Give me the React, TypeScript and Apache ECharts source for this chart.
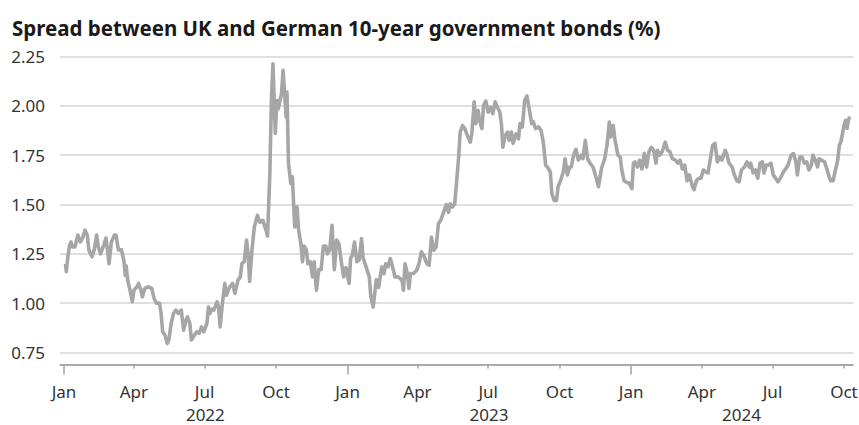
import React, { useEffect, useRef } from "react";
import * as echarts from "echarts";

const TITLE = "Spread between UK and German 10-year government bonds (%)";

// Day of year (0 = 1 Jan) and spread value (%)
const DAYS_2022 = [2,3,5,7,9,11,14,18,21,24,27,30,32,36,39,42,44,47,51,54,56,58,61,65,67,70,74,77,79,80,82,85,88,90,94,96,99,101,104,109,113,116,119,123,125,127,130,133,135,138,141,144,147,151,154,157,159,162,164,168,171,174,177,180,184,186,188,190,193,197,199,201,204,207,209,213,217,220,224,227,229,232,235,237,239,242,245,249,252,256,260,262,265,267,269,272,274,276,278,280,282,284,286,287,289,292,294,296,297,300,302,305,307,309,312,314,317,320,322,325,328,331,334,337,339,342,345,348,351,354,357,360,363];
const VALUES_2022 = [1.20,1.16,1.235,1.29,1.31,1.285,1.285,1.345,1.31,1.33,1.37,1.345,1.27,1.235,1.27,1.345,1.29,1.25,1.29,1.33,1.27,1.20,1.31,1.345,1.345,1.27,1.27,1.217,1.14,1.19,1.117,1.066,1.007,1.066,1.083,1.10,1.066,1.032,1.075,1.083,1.075,1.024,1.0,1.0,0.948,0.855,0.838,0.796,0.813,0.897,0.948,0.965,0.948,0.965,0.863,0.914,0.93,0.897,0.813,0.838,0.855,0.847,0.88,0.855,0.897,0.98,0.948,0.97,0.965,1.007,0.98,0.88,1.0,1.10,1.04,1.08,1.10,1.05,1.117,1.133,1.20,1.21,1.32,1.25,1.11,1.27,1.386,1.445,1.41,1.42,1.37,1.34,1.656,2.027,2.213,1.86,2.027,1.985,2.027,2.06,2.18,2.06,1.943,2.07,1.707,1.606,1.64,1.47,1.386,1.487,1.37,1.30,1.21,1.29,1.27,1.20,1.21,1.133,1.21,1.066,1.17,1.17,1.29,1.29,1.25,1.27,1.395,1.17,1.32,1.30,1.21,1.133,1.18];

const DAYS_2023 = [2,4,6,9,12,15,18,20,25,28,30,33,37,40,44,47,49,52,55,58,61,65,70,72,74,77,79,81,85,89,92,95,98,102,105,108,111,114,117,120,123,127,130,132,135,138,140,143,145,148,151,155,158,160,163,165,168,170,173,175,178,181,184,187,190,193,196,198,200,203,206,208,211,213,217,220,222,225,228,231,234,237,239,242,246,249,252,255,258,261,263,266,269,271,275,278,280,283,286,288,291,294,297,301,303,306,309,312,316,319,323,327,331,334,337,339,342,344,348,351,353,356,360,362];
const VALUES_2023 = [1.10,1.23,1.24,1.31,1.21,1.22,1.327,1.23,1.17,1.133,1.032,0.98,1.12,1.08,1.184,1.15,1.20,1.184,1.226,1.184,1.133,1.133,1.117,1.066,1.20,1.15,1.075,1.15,1.15,1.167,1.20,1.26,1.243,1.20,1.192,1.335,1.268,1.285,1.403,1.42,1.454,1.50,1.46,1.504,1.487,1.504,1.597,1.74,1.867,1.90,1.885,1.842,1.816,1.86,2.02,1.91,1.977,1.926,1.885,2.0,2.024,1.968,1.993,1.96,2.02,1.993,1.968,1.91,1.79,1.85,1.867,1.825,1.867,1.81,1.858,1.833,1.91,1.893,2.027,2.05,1.98,1.91,1.92,1.885,1.893,1.876,1.816,1.70,1.685,1.665,1.555,1.521,1.521,1.59,1.63,1.67,1.732,1.65,1.69,1.69,1.75,1.78,1.725,1.75,1.732,1.825,1.732,1.71,1.69,1.65,1.59,1.685,1.732,1.80,1.918,1.842,1.90,1.833,1.75,1.74,1.675,1.62,1.61,1.61];

const DAYS_2024 = [1,3,5,8,11,14,17,20,23,26,29,32,34,37,40,44,47,50,53,57,60,63,66,69,72,75,79,81,84,87,90,93,96,99,102,105,108,111,114,117,121,123,126,130,133,136,139,142,146,149,152,154,157,160,163,166,169,171,174,177,180,183,186,189,193,196,199,202,206,209,212,214,217,220,223,226,229,232,234,238,240,242,245,249,252,255,257,260,263,266,268,270,272,274,276,278,280,282];
const VALUES_2024 = [1.58,1.71,1.716,1.69,1.725,1.68,1.76,1.69,1.767,1.79,1.775,1.71,1.775,1.75,1.767,1.816,1.775,1.767,1.732,1.725,1.71,1.725,1.68,1.70,1.62,1.65,1.59,1.575,1.62,1.633,1.633,1.675,1.665,1.66,1.732,1.80,1.81,1.716,1.74,1.725,1.775,1.758,1.71,1.69,1.65,1.62,1.615,1.675,1.69,1.716,1.69,1.71,1.66,1.675,1.633,1.71,1.716,1.66,1.70,1.70,1.71,1.65,1.633,1.615,1.64,1.665,1.68,1.70,1.75,1.758,1.716,1.65,1.74,1.74,1.71,1.716,1.675,1.70,1.75,1.716,1.69,1.732,1.725,1.716,1.68,1.64,1.62,1.62,1.675,1.725,1.80,1.816,1.858,1.90,1.926,1.885,1.935,1.943];

const YEARS = [2022, 2023, 2024];
const MONTH_LABELS = ["Jan", "Apr", "Jul", "Oct"];
const MONTH_INDEX = [0, 3, 6, 9];
const LAST_TICK = "2024-10-01";
const YEAR_LABEL_DATES = ["2022-07-02", "2023-07-02", "2024-05-22"];
const X_MIN = "2021-12-26T21:00:00Z";
const X_MAX = "2024-10-12T15:00:00Z";
const Y_MIN = 0.75;
const Y_MAX = 2.25;
const Y_STEP = 0.25;

const FONT = "'Noto Sans', 'Open Sans', sans-serif";

function buildSeries(): [number, number][] {
  const sets: [number, number[], number[]][] = [
    [2022, DAYS_2022, VALUES_2022],
    [2023, DAYS_2023, VALUES_2023],
    [2024, DAYS_2024, VALUES_2024],
  ];
  const out: [number, number][] = [];
  sets.forEach(([yr, days, vals]) => {
    days.forEach((d, i) => out.push([Date.UTC(yr, 0, 1 + d), vals[i]]));
  });
  return out;
}

export default function App() {
  const ref = useRef<HTMLDivElement>(null);
  useEffect(() => {
    if (!ref.current) return;
    const chart = echarts.init(ref.current, undefined, { renderer: "svg" });
    const lastTs = Date.parse(LAST_TICK);
    const quarterTicks: number[] = [];
    const tickName = new Map<number, string>();
    YEARS.forEach((y) => {
      MONTH_INDEX.forEach((m, i) => {
        const ts = Date.UTC(y, m, 1);
        if (ts <= lastTs) {
          quarterTicks.push(ts);
          tickName.set(ts, MONTH_LABELS[i]);
        }
      });
    });
    const janTicks = quarterTicks.filter((t) => tickName.get(t) === "Jan");
    const otherTicks = quarterTicks.filter((t) => tickName.get(t) !== "Jan");
    const yearTs = YEAR_LABEL_DATES.map((d) => Date.parse(d));
    const yearName = new Map<number, string>();
    yearTs.forEach((t, i) => yearName.set(t, String(YEARS[i])));

    const xMin = Date.parse(X_MIN);
    const xMax = Date.parse(X_MAX);
    const labelStyle = { color: "#333333", fontSize: 17, fontFamily: FONT };

    chart.setOption({
      animation: false,
      backgroundColor: "#ffffff",
      title: {
        text: TITLE,
        left: 7,
        top: 12,
        textStyle: { fontFamily: FONT, fontSize: 20.5, fontWeight: "bold", color: "#1a1a1a" },
      },
      grid: { left: 60, right: 6, top: 56.5, bottom: 72.5, containLabel: false, outerBoundsMode: "none" },
      xAxis: [
        {
          type: "value",
          min: xMin,
          max: xMax,
          position: "bottom",
          offset: 12,
          axisLine: { show: true, lineStyle: { color: "#8f8f8f", width: 1.5 } },
          axisTick: { show: true, customValues: janTicks, length: 10, lineStyle: { color: "#a0a0a0", width: 1.5 } },
          axisLabel: {
            ...labelStyle,
            customValues: quarterTicks,
            margin: 18,
            showMinLabel: true,
            showMaxLabel: true,
            formatter: (v: number) => tickName.get(v) ?? "",
          },
          splitLine: { show: false },
        },
        {
          type: "value",
          min: xMin,
          max: xMax,
          position: "bottom",
          offset: 12,
          axisLine: { show: false },
          axisTick: { show: true, customValues: otherTicks, length: 4, lineStyle: { color: "#a0a0a0", width: 1.5 } },
          axisLabel: {
            ...labelStyle,
            customValues: yearTs,
            margin: 41,
            formatter: (v: number) => yearName.get(v) ?? "",
          },
          splitLine: { show: false },
        },
      ],
      yAxis: {
        type: "value",
        min: Y_MIN,
        max: Y_MAX,
        interval: Y_STEP,
        axisLine: { show: false },
        axisTick: { show: false },
        axisLabel: { ...labelStyle, margin: 15, formatter: (v: number) => v.toFixed(2) },
        splitLine: { show: true, lineStyle: { color: "#d4d4d4", width: 1.5 } },
      },
      series: [
        {
          type: "line",
          xAxisIndex: 0,
          data: buildSeries(),
          showSymbol: false,
          symbol: "none",
          lineStyle: { color: "#a6a6a6", width: 3.6, join: "round" },
          itemStyle: { color: "#a6a6a6" },
        },
      ],
    });
    return () => chart.dispose();
  }, []);
  return (
    <div
      ref={ref}
      style={{ position: "fixed", left: 0, top: 0, width: 859, height: 425, background: "#fff" }}
    />
  );
}
